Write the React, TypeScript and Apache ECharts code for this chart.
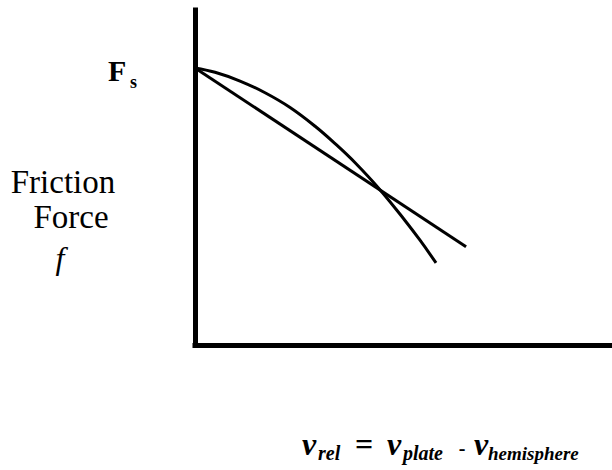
import React, { useEffect, useRef } from "react";
import * as echarts from "echarts";

// Friction force vs relative velocity (schematic, arbitrary units 0..100)
const linearX = [0, 65];
const linearY = [82.7, 29.3];

const curveX = [0, 4.8, 10.8, 16.8, 22.8, 28.8, 33.6, 38.4, 44.4, 50.4, 54.0, 57.8];
const curveY = [82.7, 81.4, 78.8, 75.3, 70.9, 65.3, 60.1, 54.4, 46.3, 37.1, 31.2, 24.5];

const SERIF = "'Liberation Serif', 'Times New Roman', serif";

function txt(
  text: string,
  x: number,
  y: number,
  fontSize: number,
  opts: { weight?: string; italic?: boolean; align?: string } = {}
) {
  const font = `${opts.italic ? "italic" : "normal"} ${opts.weight || "normal"} ${fontSize}px ${SERIF}`;
  return {
    type: "text",
    x,
    y,
    style: {
      text,
      fill: "#000",
      font,
      align: opts.align || "left",
      verticalAlign: "middle",
    },
  };
}

export default function App() {
  const ref = useRef<HTMLDivElement>(null);

  useEffect(() => {
    if (!ref.current) return;
    const chart = echarts.init(ref.current, null, { renderer: "svg" });

    const axisCommon = {
      type: "value",
      min: 0,
      max: 100,
      axisLabel: { show: false },
      axisTick: { show: false },
      splitLine: { show: false },
      axisLine: {
        show: true,
        lineStyle: { color: "#000", width: 5, cap: "square" },
      },
    };

    const BI = { weight: "bold", italic: true };

    chart.setOption({
      animation: false,
      backgroundColor: "#fff",
      grid: { left: 195, right: 0, top: 10, bottom: 125 },
      xAxis: { ...axisCommon },
      yAxis: { ...axisCommon },
      series: [
        {
          type: "line",
          data: linearX.map((x, i) => [x, linearY[i]]),
          showSymbol: false,
          lineStyle: { color: "#000", width: 3 },
          z: 3,
        },
        {
          type: "line",
          data: curveX.map((x, i) => [x, curveY[i]]),
          smooth: 0.4,
          showSymbol: false,
          lineStyle: { color: "#000", width: 3 },
          z: 3,
        },
      ],
      graphic: [
        txt("F", 108, 70, 30, { weight: "bold" }),
        txt("s", 130, 82, 18, { weight: "bold" }),
        txt("Friction", 63, 182, 33, { align: "center" }),
        txt("Force", 71, 217, 33, { align: "center" }),
        txt("f", 60, 258, 32, { italic: true, align: "center" }),
        txt("v", 302, 444, 32, BI),
        txt("rel", 318, 453, 20, BI),
        txt("=", 364, 444, 32, { weight: "bold", align: "center" }),
        txt("v", 387, 444, 32, BI),
        txt("plate", 403, 453, 20, BI),
        txt("-", 462, 448, 20, { weight: "bold", align: "center" }),
        txt("v", 474, 444, 32, BI),
        txt("hemisphere", 488, 453, 19, BI),
      ],
    });

    return () => chart.dispose();
  }, []);

  return (
    <div
      ref={ref}
      style={{ position: "fixed", left: 0, top: 0, width: 612, height: 470 }}
    />
  );
}
